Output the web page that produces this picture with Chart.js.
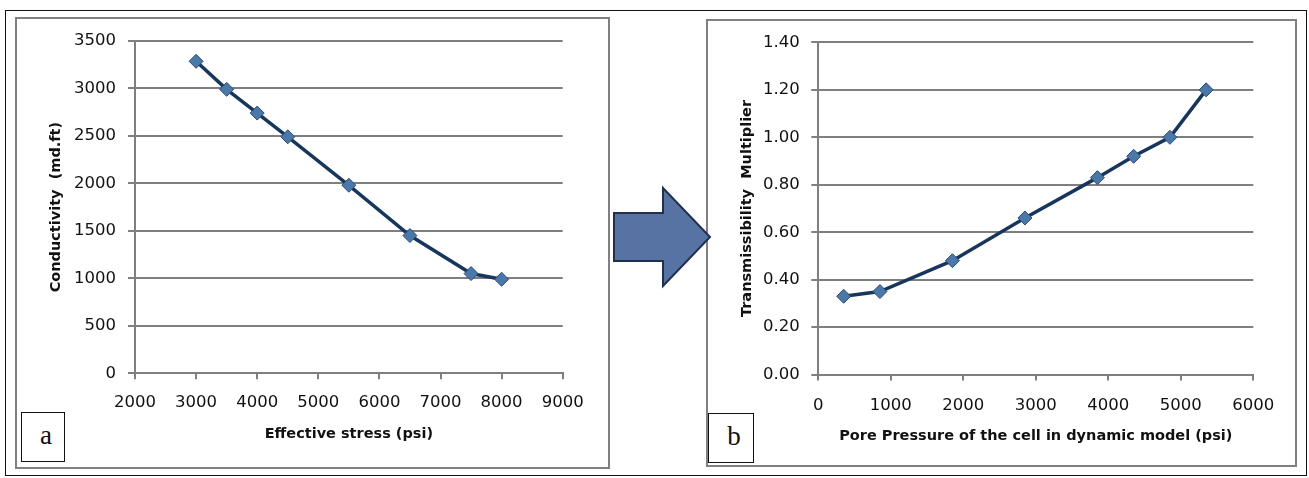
<!DOCTYPE html>
<html>
<head>
<meta charset="utf-8">
<script src="https://cdn.jsdelivr.net/npm/chart.js@4.4.1/dist/chart.umd.min.js"></script>
<style>
  html, body { margin: 0; padding: 0; background: #fff; }
  #wrap { position: relative; width: 1309px; height: 478px; background: #fff; overflow: hidden; }
  .frame { position: absolute; box-sizing: border-box; }
  .outer { left: 5px; top: 10px; width: 1302px; height: 466px; border: 1.5px solid #111; }
  .box { border: 2px solid #808080; }
  .tag { position: absolute; box-sizing: border-box; border: 1px solid #111; background: #fff;
         font-family: "Liberation Serif", "DejaVu Serif", serif; font-size: 27px; color: #111;
         display: flex; align-items: center; justify-content: center; padding: 0 0 4px 6px; }
  canvas { position: absolute; }
  svg { position: absolute; left: 0; top: 0; }
</style>
</head>
<body>
<div id="wrap">
  <div class="frame outer"></div>
  <div class="frame box" style="left:15px;top:17px;width:595px;height:452px;"></div>
  <div class="frame box" style="left:706px;top:19px;width:591px;height:448px;"></div>
  <canvas id="chartA" width="590" height="447" style="left:17px;top:19px;"></canvas>
  <canvas id="chartB" width="587" height="444" style="left:708px;top:21px;"></canvas>
  <div class="tag" style="left:21px;top:412px;width:44px;height:50px;">a</div>
  <div class="tag" style="left:708px;top:413px;width:46px;height:50px;">b</div>
  <svg width="1309" height="478">
    <polygon points="614,213 663,213 663,188 710,237 663,286 663,261 614,261"
             fill="#5673a3" stroke="#1f2f4d" stroke-width="2" stroke-linejoin="miter"/>
  </svg>
</div>
<script>
// panel a
var stressX = [3000, 3500, 4000, 4500, 5500, 6500, 7500, 8000];
var conductivity = [3285, 2990, 2740, 2490, 1980, 1450, 1050, 990];
// panel b
var porePressure = [350, 850, 1850, 2850, 3850, 4350, 4850, 5350];
var transMult = [0.33, 0.35, 0.48, 0.66, 0.83, 0.92, 1.00, 1.20];

var gridColor = '#7f7f7f';
var tickFont = { family: "'DejaVu Sans'", size: 16.5 };
var titleFont = { family: "'DejaVu Sans'", size: 14.5, weight: 'bold' };

function toPoints(xs, ys) {
    var pts = [];
    for (var i = 0; i < xs.length; i++) {
        pts.push({ x: xs[i], y: ys[i] });
    }
    return pts;
}

function makeChart(id, xs, ys, opt) {
    return new Chart(document.getElementById(id), {
        type: 'scatter',
        data: {
            datasets: [{
                data: toPoints(xs, ys),
                showLine: true,
                borderColor: '#18365c',
                borderWidth: 3.5,
                tension: 0,
                pointStyle: 'rectRot',
                pointRadius: 7,
                pointBackgroundColor: '#4a78a8',
                pointBorderColor: '#2a4a73',
                pointBorderWidth: 1
            }]
        },
        options: {
            responsive: false,
            animation: false,
            devicePixelRatio: 1,
            layout: { padding: { top: opt.padTop, right: opt.padRight, left: 0, bottom: 0 } },
            plugins: { legend: { display: false }, tooltip: { enabled: false } },
            scales: {
                x: {
                    type: 'linear',
                    min: opt.xMin, max: opt.xMax,
                    afterFit: function (s) { s.height = opt.xAxisH; },
                    ticks: {
                        stepSize: 1000, color: '#111', font: tickFont, padding: opt.xTickPad, maxRotation: 0,
                        callback: function (v) { return String(v); }
                    },
                    grid: { drawOnChartArea: false, drawTicks: true, tickLength: 6, color: gridColor, lineWidth: 2 },
                    border: { color: gridColor, width: 2 },
                    title: { display: true, text: opt.xTitle, color: '#111', font: titleFont, padding: { top: 0, bottom: opt.xTitlePad } }
                },
                y: {
                    type: 'linear',
                    min: 0, max: opt.yMax,
                    afterFit: function (s) { s.width = opt.yAxisW; },
                    ticks: {
                        stepSize: opt.yStep, color: '#111', font: tickFont, padding: opt.yTickPad,
                        callback: opt.yFmt
                    },
                    grid: { drawTicks: true, tickLength: 7, color: gridColor, lineWidth: 2 },
                    border: { color: gridColor, width: 2 },
                    title: { display: true, text: opt.yTitle, color: '#111', font: titleFont, padding: { top: opt.yTitlePad, bottom: 0 } }
                }
            }
        }
    });
}

makeChart('chartA', stressX, conductivity, {
    padTop: 20, padRight: 44.3, xAxisH: 92.7, yAxisW: 118,
    xMin: 2000, xMax: 9000, yMax: 3500, yStep: 500,
    xTickPad: 14, yTickPad: 12, xTitlePad: 22.6, yTitlePad: 31,
    xTitle: 'Effective stress (psi)', yTitle: 'Conductivity  (md.ft)',
    yFmt: function (v) { return String(v); }
});

makeChart('chartB', porePressure, transMult, {
    padTop: 19.7, padRight: 41.7, xAxisH: 90.4, yAxisW: 110.3,
    xMin: 0, xMax: 6000, yMax: 1.4, yStep: 0.2,
    xTickPad: 15, yTickPad: 11.5, xTitlePad: 19.9, yTitlePad: 30.5,
    xTitle: 'Pore Pressure of the cell in dynamic model (psi)', yTitle: 'Transmissibility  Multiplier',
    yFmt: function (v) { return v.toFixed(2); }
});
</script>
</body>
</html>
